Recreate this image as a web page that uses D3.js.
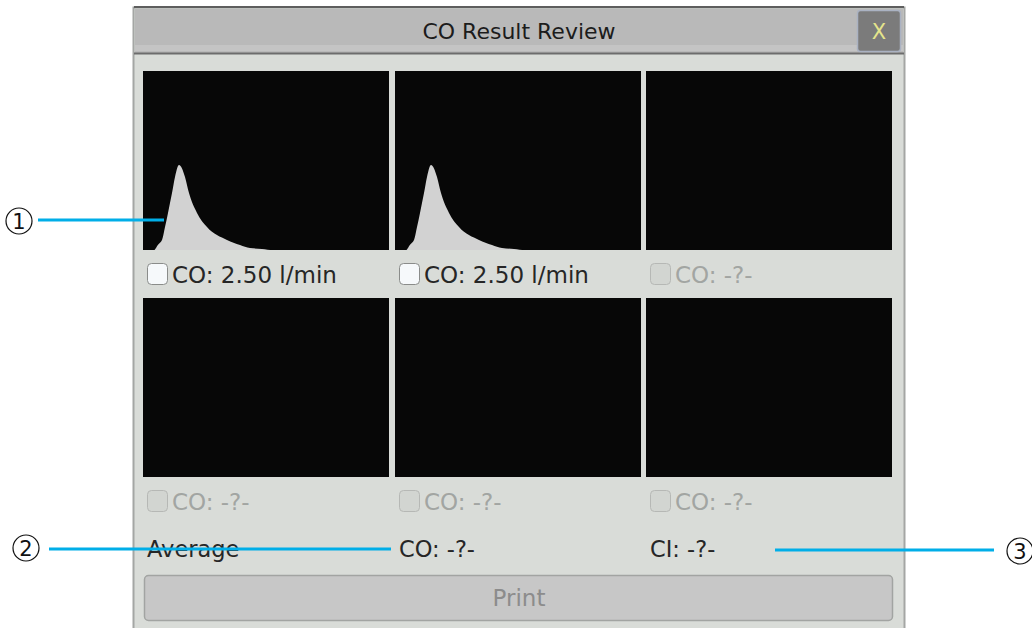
<!DOCTYPE html>
<html>
<head>
<meta charset="utf-8">
<script src="https://cdn.jsdelivr.net/npm/d3@7"></script>
<style>
  html, body { margin: 0; padding: 0; background: #fff; }
  svg { display: block; }
  text { font-family: "DejaVu Sans", sans-serif; }
</style>
</head>
<body>
<svg id="chart"></svg>
<script>
(function (d3) {
  'use strict'
  // data
  // thermodilution curve, time (s) vs normalised temperature drop
  const waveT = [0, 1.1, 1.5, 1.9, 2.2, 2.5, 2.9, 3.2, 3.6, 4.2, 4.6, 5.4, 6.4, 8.4, 9.7, 10.7, 11.9, 13.0, 24.6]
  const waveDT = [0, 0, 0.03, 0.056, 0.128, 0.207, 0.318, 0.408, 0.475, 0.408, 0.318, 0.207, 0.128, 0.056, 0.028, 0.011, 0.006, 0, 0]

  // one entry per measurement slot (null = no result)
  const coValues = ['2.50', '2.50', null, null, null, null]
  const coUnit = 'l/min'
  const averageLabels = ['Average', 'CO: -?-', 'CI: -?-']
  const title = 'CO Result Review'
  const buttonLabel = 'Print'
  const callouts = ['1', '2', '3']

  const W = 1032
  const H = 628

  const svg = d3.select('#chart').attr('width', W).attr('height', H)
  svg.append('rect').attr('width', W).attr('height', H).attr('fill', '#fff')

  // dialog frame
  const dlg = svg.append('g')
  dlg.append('rect')
    .attr('x', 133.5).attr('y', 7.5).attr('width', 771).attr('height', 640)
    .attr('fill', '#d9dcd8').attr('stroke', '#a4a6a4').attr('stroke-width', 2)
  dlg.append('rect')
    .attr('x', 135).attr('y', 9).attr('width', 768).attr('height', 44)
    .attr('fill', '#b9b9b9')
  dlg.append('rect')
    .attr('x', 135).attr('y', 45).attr('width', 768).attr('height', 6)
    .attr('fill', '#c4c4c4')
  dlg.append('line')
    .attr('x1', 134).attr('x2', 904).attr('y1', 7).attr('y2', 7)
    .attr('stroke', '#5e5e5e').attr('stroke-width', 2)
  dlg.append('line')
    .attr('x1', 134).attr('x2', 904).attr('y1', 53.5).attr('y2', 53.5)
    .attr('stroke', '#6c6c6c').attr('stroke-width', 2)
  dlg.append('text')
    .attr('x', 519).attr('y', 39)
    .attr('text-anchor', 'middle')
    .attr('font-size', 22)
    .attr('fill', '#1c1c1c')
    .text(title)

  // close button
  dlg.append('rect')
    .attr('x', 857.5).attr('y', 10.5).attr('width', 43).attr('height', 41).attr('rx', 3)
    .attr('fill', '#7b7b7b').attr('stroke', '#aab2c2').attr('stroke-width', 1.5)
  dlg.append('text')
    .attr('x', 879).attr('y', 39)
    .attr('text-anchor', 'middle')
    .attr('font-size', 21)
    .attr('fill', '#e4e48c')
    .text('X')

  // panels
  const PW = 246
  const PH = 179
  const colX = d3.range(3).map(i => Math.round(143 + i * 251.5))
  const rowY = [71, 298]

  const x = d3.scaleLinear().domain([0, 24.6]).range([0, PW])
  const y = d3.scaleLinear().domain([0, 1]).range([PH, 0])
  const area = d3.area()
    .x((d, i) => x(waveT[i]))
    .y0(PH)
    .y1((d, i) => y(waveDT[i]))
    .curve(d3.curveMonotoneX)

  coValues.forEach((v, i) => {
    const px = colX[i % 3]
    const py = rowY[Math.floor(i / 3)]
    const g = svg.append('g').attr('transform', 'translate(' + px + ',' + py + ')')
    g.append('rect').attr('width', PW).attr('height', PH).attr('fill', '#070707')
    if (v !== null) {
      g.append('path').attr('d', area(waveDT)).attr('fill', '#d2d2d2')
    }
    const on = v !== null
    g.append('rect')
      .attr('x', 4.5).attr('y', 192.5).attr('width', 20).attr('height', 21).attr('rx', 4)
      .attr('fill', on ? '#f6f9fb' : '#d2d5d1')
      .attr('stroke', on ? '#8a8c8a' : '#b6b8b5')
    g.append('text')
      .attr('x', 29).attr('y', 212)
      .attr('font-size', 23)
      .attr('fill', on ? '#262626' : '#a2a5a2')
      .text(on ? 'CO: ' + v + ' ' + coUnit : 'CO: -?-')
  })

  // average row
  averageLabels.forEach((t, i) => {
    svg.append('text')
      .attr('x', colX[i] + 4).attr('y', 557)
      .attr('font-size', 22.5)
      .attr('fill', '#262626')
      .text(t)
  })

  // print button
  svg.append('rect')
    .attr('x', 144.5).attr('y', 575.5).attr('width', 748).attr('height', 45).attr('rx', 4)
    .attr('fill', '#c7c7c7').attr('stroke', '#a2a4a2').attr('stroke-width', 1.5)
  svg.append('text')
    .attr('x', 519).attr('y', 606)
    .attr('text-anchor', 'middle')
    .attr('font-size', 23)
    .attr('fill', '#8c8c8c')
    .text(buttonLabel)

  // callouts
  const calloutLines = [[38, 164, 220], [49, 391, 549], [775, 994, 550]]
  const calloutPos = [[19, 221], [26, 548], [1020, 551]]
  calloutLines.forEach(l => {
    svg.append('line')
      .attr('x1', l[0]).attr('x2', l[1]).attr('y1', l[2]).attr('y2', l[2])
      .attr('stroke', '#00aee8').attr('stroke-width', 3)
  })
  callouts.forEach((c, i) => {
    const g = svg.append('g').attr('transform', 'translate(' + calloutPos[i][0] + ',' + calloutPos[i][1] + ')')
    g.append('circle').attr('r', 13).attr('fill', '#fff').attr('stroke', '#111').attr('stroke-width', 1.2)
    g.append('text')
      .attr('y', 7.5)
      .attr('text-anchor', 'middle')
      .attr('font-family', '"Liberation Serif", "DejaVu Serif", serif')
      .attr('font-size', 21)
      .attr('fill', '#111')
      .text(c)
  })
}(d3))
</script>
</body>
</html>
